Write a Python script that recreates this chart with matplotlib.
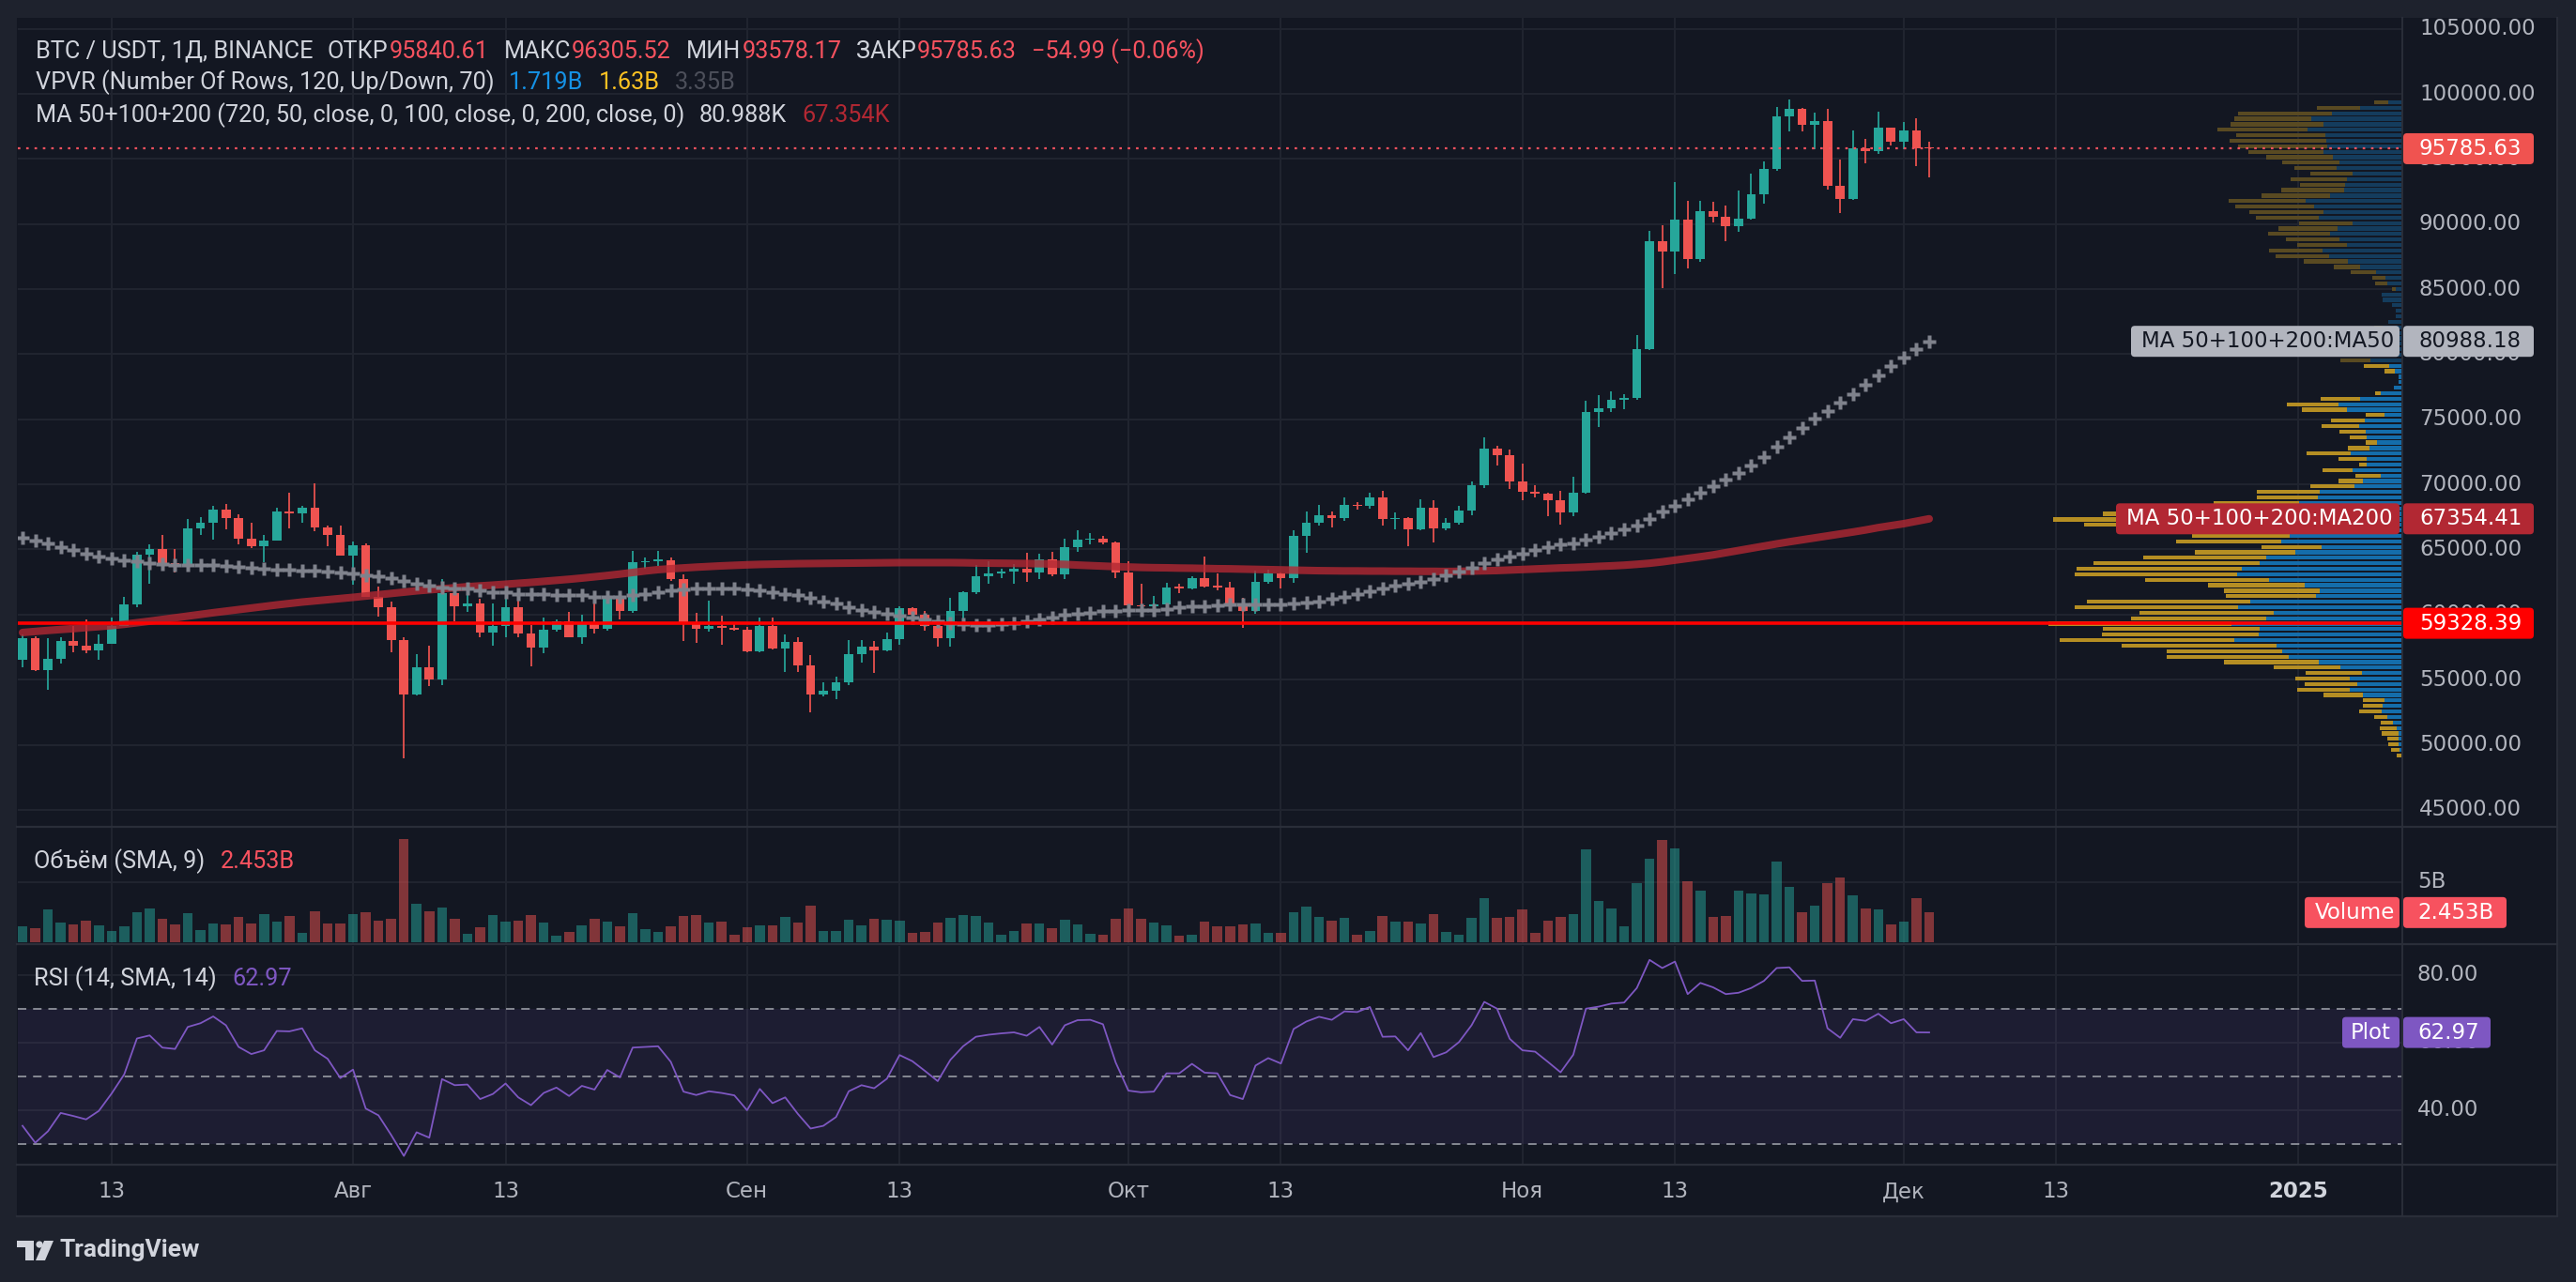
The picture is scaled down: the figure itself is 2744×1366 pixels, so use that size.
import numpy as np
import pandas as pd
import matplotlib
matplotlib.use('Agg')
import matplotlib.pyplot as plt
from matplotlib.patches import Rectangle, FancyBboxPatch, Circle, Polygon
from matplotlib.lines import Line2D
from matplotlib.transforms import IdentityTransform

# ------------------------------------ data ---------------------------------------
start_date = '2024-07-06'
first_open = 56540
last_open = 95840.61

closes = [58150, 55700, 56630, 57980, 57600, 57240, 57760, 59110, 60750, 64590,
          65000, 63940, 63870, 66590, 67070, 68080, 67400, 65820, 65240, 65700,
          67910, 67760, 68200, 66680, 66110, 64520, 65290, 61390, 60550, 58030,
          53890, 55940, 54980, 61630, 60670, 60870, 58610, 59110, 60550, 58530,
          57430, 58820, 59470, 58290, 59420, 58890, 61230, 60260, 63990, 64110,
          64160, 62720, 59420, 58890, 59110, 59010, 58820, 57140, 59110, 57380,
          57930, 56060, 53850, 54130, 54760, 56990, 57570, 57240, 58080, 60500,
          59960, 59110, 58150, 60290, 61730, 62950, 63140, 63310, 63530, 63260,
          64250, 63090, 65180, 65730, 65830, 65560, 63260, 60740, 60620, 60790,
          62090, 62020, 62830, 62180, 62110, 60670, 60240, 62520, 63170, 62830,
          66040, 67050, 67630, 67390, 68420, 68350, 68990, 67310, 67390, 66570,
          68200, 66640, 67030, 67990, 69940, 72740, 72230, 70250, 69450, 69300,
          68760, 67840, 69350, 75540, 75830, 76470, 76650, 80370, 88650, 87870,
          90370, 87280, 91010, 90520, 89800, 90440, 92290, 94250, 98280, 98840,
          97590, 97920, 92960, 91910, 95840, 95580, 97410, 96350, 97200, 95840.62,
          95785.63]

highs = [58460, 58300, 58150, 58220, 59110, 59590, 58460, 59780, 61350, 64830,
         65360, 66110, 65050, 67310, 67520, 68320, 68490, 67670, 67020, 66150,
         68200, 69330, 68320, 70050, 66850, 66830, 65580, 65480, 62120, 60990,
         58220, 56990, 57620, 62720, 62310, 61590, 61230, 60870, 61710, 61470,
         59180, 59740, 59660, 60220, 59980, 61350, 61710, 61350, 64900, 64400,
         64900, 64400, 63100, 60140, 61100, 59900, 59300, 59060, 59740, 59740,
         58460, 58270, 56920, 54760, 55260, 58030, 58030, 57980, 58630, 60600,
         60550, 60310, 59710, 61270, 61800, 63790, 64080, 63500, 63910, 64750,
         64680, 64800, 65800, 66480, 66260, 66040, 65600, 64080, 62350, 61440,
         62420, 62350, 62950, 64460, 63170, 62520, 61270, 63380, 63450, 63240,
         66480, 67910, 68420, 67910, 68990, 68660, 69380, 69500, 67820, 67500,
         68850, 68780, 67390, 68350, 70220, 73600, 72970, 72670, 71590, 69940,
         69350, 69510, 70610, 76390, 76830, 77160, 76910, 81480, 89490, 89930,
         93240, 91810, 91810, 91730, 91450, 92600, 93890, 94810, 99000, 99560,
         98920, 98560, 98840, 94970, 97200, 96560, 98640, 97410, 97840, 98130,
         96305.52]

lows = [55940, 55650, 54210, 56230, 57090, 57020, 56490, 57740, 59090, 60550,
        62360, 63390, 63220, 63320, 66150, 65750, 66540, 65380, 65070, 64040,
        65650, 66610, 67040, 66390, 65240, 64500, 62310, 61350, 59830, 57090,
        48970, 53800, 54490, 54610, 59470, 60190, 58270, 57620, 58290, 58290,
        56010, 57020, 58700, 58220, 57740, 58530, 58770, 59660, 60100, 63510,
        63750, 62600, 57980, 57810, 58700, 57690, 58750, 57100, 57090, 57300,
        55580, 55580, 52500, 53730, 53530, 54610, 56300, 55500, 57140, 57700,
        59470, 58750, 57510, 57560, 59470, 61600, 62350, 62780, 62350, 62540,
        62690, 62950, 62690, 64820, 65420, 65420, 62830, 60070, 60020, 59830,
        60500, 61680, 61920, 62110, 61870, 60310, 58950, 60070, 62350, 62040,
        62470, 64770, 66860, 66670, 67220, 68030, 68110, 66860, 66550, 65280,
        66480, 65560, 66480, 66910, 67630, 69710, 71460, 69640, 68810, 69020,
        67530, 66890, 67530, 69300, 74410, 75540, 75750, 76470, 80300, 85070,
        86130, 86620, 87080, 90110, 88700, 89390, 90370, 91550, 94070, 97150,
        97150, 95740, 92630, 90830, 91830, 94630, 95350, 96040, 95740, 94430,
        93578.17]

# volume, billions
volumes = [1.31, 1.16, 2.71, 1.62, 1.47, 1.78, 1.39, 0.93, 1.31, 2.47,
           2.78, 1.93, 1.47, 2.40, 1.01, 1.55, 1.47, 2.09, 1.55, 2.32,
           1.70, 2.16, 0.77, 2.55, 1.55, 1.55, 2.32, 2.47, 1.78, 1.93,
           8.50, 3.17, 2.55, 2.86, 1.93, 0.70, 1.24, 2.24, 1.70, 1.78,
           2.24, 1.62, 0.54, 0.85, 1.39, 1.93, 1.70, 1.31, 2.40, 1.08,
           0.85, 1.31, 2.16, 2.24, 1.62, 1.70, 0.62, 1.24, 1.39, 1.39,
           2.09, 1.62, 3.02, 0.93, 0.93, 1.86, 1.39, 1.93, 1.86, 1.78,
           0.77, 0.85, 1.62, 2.01, 2.24, 2.16, 1.62, 0.62, 0.93, 1.55,
           1.55, 1.16, 1.86, 1.47, 0.70, 0.62, 1.93, 2.78, 1.93, 1.62,
           1.39, 0.54, 0.62, 1.70, 1.31, 1.31, 1.47, 1.55, 0.77, 0.77,
           2.47, 2.94, 2.09, 1.78, 2.01, 0.62, 0.93, 2.16, 1.70, 1.70,
           1.55, 2.32, 0.85, 0.62, 2.01, 3.63, 2.01, 2.09, 2.71, 0.77,
           1.78, 2.09, 2.32, 7.65, 3.40, 2.78, 1.31, 4.87, 6.88, 8.43,
           7.73, 5.03, 4.25, 2.09, 2.16, 4.25, 4.02, 3.94, 6.65, 4.56,
           2.47, 3.02, 4.87, 5.34, 3.87, 2.78, 2.71, 1.47, 1.70, 3.63,
           2.453]

ma50 = [65910, 65670, 65480, 65190, 64950, 64640, 64470, 64280, 64180, 64060,
        63940, 63870, 63820, 63800, 63800, 63800, 63750, 63680, 63560, 63510,
        63440, 63440, 63390, 63390, 63320, 63250, 63130, 63030, 62910, 62790,
        62550, 62380, 62190, 62070, 61990, 61990, 61830, 61710, 61710, 61590,
        61590, 61540, 61510, 61510, 61470, 61390, 61350, 61350, 61470, 61590,
        61710, 61830, 61950, 62020, 62020, 62020, 62020, 61950, 61880, 61710,
        61590, 61470, 61300, 61030, 60820, 60550, 60380, 60190, 60070, 59900,
        59800, 59620, 59470, 59350, 59250, 59220, 59190, 59230, 59350, 59470,
        59640, 59760, 59950, 60070, 60150, 60260, 60310, 60320, 60360, 60380,
        60430, 60550, 60620, 60670, 60740, 60770, 60790, 60790, 60790, 60800,
        60820, 60910, 61030, 61200, 61390, 61580, 61800, 61990, 62230, 62350,
        62540, 62710, 63000, 63320, 63610, 63920, 64250, 64445, 64650, 64960,
        65210, 65420, 65500, 65730, 65990, 66290, 66580, 66860, 67350, 67890,
        68350, 68860, 69380, 69890, 70380, 70870, 71460, 72100, 72870, 73620,
        74340, 75060, 75620, 76260, 76900, 77620, 78370, 79090, 79730, 80370,
        80988.18]

ma200 = [58620, 58700, 58780, 58850, 58920, 59000, 59070, 59150, 59250, 59370,
         59490, 59620, 59750, 59880, 60010, 60140, 60260, 60380, 60500, 60620,
         60740, 60850, 60960, 61050, 61140, 61230, 61320, 61420, 61520, 61620,
         61720, 61820, 61900, 61980, 62060, 62140, 62200, 62260, 62330, 62400,
         62470, 62550, 62630, 62710, 62800, 62900, 63000, 63110, 63230, 63350,
         63450, 63520, 63580, 63640, 63690, 63740, 63780, 63820, 63850, 63870,
         63890, 63910, 63920, 63930, 63940, 63950, 63960, 63970, 63980, 63990,
         63990, 63990, 63990, 63990, 63980, 63960, 63950, 63940, 63930, 63920,
         63910, 63880, 63850, 63800, 63760, 63720, 63680, 63650, 63620, 63600,
         63590, 63570, 63560, 63540, 63520, 63510, 63490, 63470, 63450, 63430,
         63410, 63390, 63370, 63360, 63350, 63350, 63340, 63340, 63330, 63330,
         63320, 63320, 63310, 63320, 63340, 63360, 63380, 63420, 63460, 63500,
         63540, 63580, 63610, 63650, 63700, 63740, 63790, 63860, 63940, 64050,
         64180, 64310, 64440, 64580, 64750, 64920, 65090, 65260, 65430, 65590,
         65740, 65890, 66040, 66190, 66340, 66500, 66680, 66830, 66980, 67170,
         67354.41]

rsi = [35.4, 30.4, 33.8, 39.2, 38.3, 37.3, 39.8, 44.9, 50.6, 61.2,
       62.1, 58.5, 58.1, 64.6, 65.7, 67.7, 65.1, 58.7, 56.6, 57.7,
       63.4, 63.3, 64.2, 57.7, 55.2, 49.5, 52.0, 40.5, 38.5, 32.7,
       26.5, 33.5, 31.9, 49.2, 47.4, 47.6, 43.3, 44.8, 47.9, 43.8,
       41.5, 45.1, 46.7, 44.2, 47.2, 46.1, 51.9, 49.7, 58.5, 58.7,
       58.9, 54.3, 45.5, 44.5, 45.6, 45.1, 44.4, 40.0, 46.3, 42.1,
       43.8, 38.9, 34.6, 35.4, 38.0, 45.6, 47.4, 46.5, 49.3, 56.3,
       54.5, 51.6, 48.6, 54.9, 58.9, 61.7, 62.3, 62.7, 63.0, 62.0,
       64.6, 59.4, 65.1, 66.6, 66.7, 65.4, 54.1, 45.8, 45.3, 45.5,
       50.9, 50.9, 53.7, 51.1, 50.9, 44.5, 43.3, 53.2, 55.4, 53.8,
       64.0, 66.2, 67.6, 66.7, 69.2, 69.0, 70.5, 61.7, 61.8, 57.7,
       62.8, 55.7, 57.1, 60.1, 65.1, 72.0, 70.0, 61.1, 57.7, 57.3,
       54.3, 51.2, 56.4, 70.0, 70.6, 71.5, 71.8, 76.1, 84.4, 82.0,
       83.9, 74.3, 77.6, 76.3, 74.3, 74.7, 76.1, 78.2, 82.0, 82.2,
       78.2, 78.3, 64.2, 61.4, 66.9, 66.4, 68.5, 65.7, 66.9, 63.0,
       62.97]

# volume profile, 120 rows from lowest low to highest high (relative units)
vp_up = [0.5, 2, 3.3, 3.3, 3.3, 5.3, 9.3, 15.3, 21.3, 20.3,
         18.3, 41.3, 55.3, 47.3, 55.3, 42.3, 65.3, 88.3, 120.3, 127.3,
         133.3, 178.3, 152.3, 151.3, 181.3, 144.3, 136.3, 174.3, 161.3, 91.3,
         87.3, 103.3, 141.3, 175.3, 170.3, 151.3, 144.3, 113.3, 85.3, 128.3,
         119.3, 125, 130, 140, 125, 130, 109.3, 89.3, 87.3, 50.3,
         41.3, 22.3, 52.3, 37.3, 37.3, 54.3, 34.3, 26.3, 37.3, 38.3,
         45.3, 39.3, 18.3, 58.3, 67.3, 44.3, 22.3, 8.3, 3.3, 3.3,
         7.3, 13.3, 32.7, 25, 20, 15, 12, 12, 20, 14.3,
         6.3, 6.3, 10.3, 20.3, 21.3, 6.3, 15.3, 17.3, 27.3, 44.3,
         57.3, 77.3, 84.3, 58.3, 66.3, 76.3, 68.3, 52.3, 88.3, 83.3,
         93.3, 102.3, 76.3, 61.3, 60.3, 58.3, 52.3, 69.3, 66.3, 73.3,
         83.3, 79.3, 80.3, 81.3, 100, 83.3, 96, 74.3, 44.3, 14.3]
vp_down = [4.8, 9.3, 11, 12, 18, 18, 13, 14, 24, 21,
           23, 42, 56, 56, 58, 60, 71, 101, 130, 123,
           165, 186, 167, 167, 195, 144, 143, 174, 174, 96,
           102, 103, 132, 173, 176, 177, 131, 107, 64, 112,
           104, 155, 208, 232, 193, 160, 91, 65, 67, 47,
           26, 27, 32, 8, 30, 47, 23, 12, 18, 28,
           40, 36, 20, 48, 55, 42, 6, 0, 0, 0,
           11, 27, 32, 10, 8, 6, 4, 6, 9, 0,
           0, 0, 0, 0, 0, 4, 13, 14, 27, 28,
           47, 57, 57, 53, 57, 66, 63, 57, 67, 79,
           84, 82, 73, 67, 48, 60, 45, 45, 61, 71,
           80, 95, 103, 95, 96, 99, 82, 100, 46, 15]
value_area_high = 79400
poc_price = 59328.39

tick_dates = ['2024-07-13', '2024-08-01', '2024-08-13', '2024-09-01', '2024-09-13', '2024-10-01',
              '2024-10-13', '2024-11-01', '2024-11-13', '2024-12-01', '2024-12-13', '2025-01-01']
tick_labels = ['13', 'Авг', '13', 'Сен', '13', 'Окт', '13', 'Ноя', '13', 'Дек', '13', '2025']

# ------------------------------------ style ---------------------------------------
W, H = 2744, 1366
BG = '#131722'
FRAME = '#1e222d'
GRID = '#212530'
SEP = '#2a2e39'
AXTXT = '#b2b5be'
LEG = '#d1d4dc'
UP = '#26a69a'
DN = '#ef5350'
RED = '#f7525f'
MA200C = '#b22833'
PURPLE = '#7e57c2'
AXFONT = dict(family='DejaVu Sans', fontsize=16.5)
LEGSIZE = 18.2

plt.rcParams['font.family'] = ['Roboto', 'DejaVu Sans']
ID = IdentityTransform()

fig = plt.figure(figsize=(W / 100, H / 100), dpi=100, facecolor=FRAME)
renderer = fig.canvas.get_renderer()


def rect_px(x0, y0, x1, y1):
    return [x0 / W, 1 - y1 / H, (x1 - x0) / W, (y1 - y0) / H]


def hline(x0, x1, y, lw=1.5):
    fig.add_artist(Line2D([x0, x1], [H - y, H - y], transform=ID, color=SEP, lw=lw, zorder=2))


def vline(x, y0, y1, lw=1.5):
    fig.add_artist(Line2D([x, x], [H - y0, H - y1], transform=ID, color=SEP, lw=lw, zorder=2))


def ydisp(axis, v):
    return axis.transData.transform((0, v))[1]


def legend_line(x, y, groups, gap=15):
    # groups: list of [(text, colour), ...]; pieces inside a group touch, groups are spaced
    for grp in groups:
        for s, col in grp:
            t = fig.text(x, H - y, s, transform=ID, color=col, va='center', ha='left', fontsize=LEGSIZE)
            x = t.get_window_extent(renderer).x1 + 1
        x += gap


def axis_box(x0, x1, yc, fc, label, tc, tx, h=33):
    fig.add_artist(FancyBboxPatch((x0, yc - h / 2), x1 - x0, h,
                                  boxstyle='round,pad=0,rounding_size=4',
                                  transform=ID, fc=fc, ec='none', zorder=20))
    fig.text(tx, yc, label, transform=ID, color=tc, va='center', ha='left', zorder=21, **AXFONT)


fig.add_artist(Rectangle((18, H - 1296), 2724 - 18, 1296 - 19, transform=ID,
                         fc=BG, ec='none', zorder=-10))

c = np.array(closes, dtype=float)
o = np.array([first_open] + closes[:-2] + [last_open], dtype=float)
h = np.array(highs, dtype=float)
l = np.array(lows, dtype=float)
x = np.arange(len(c))
dates = pd.date_range(start_date, periods=len(c), freq='D')
tick_pos = np.array((pd.to_datetime(tick_dates) - dates[0]).days)
colors = np.where(c >= o, UP, DN)

ax = fig.add_axes(rect_px(19, 19, 2558, 880))
ax_v = fig.add_axes(rect_px(19, 882, 2558, 1005), sharex=ax)
ax_r = fig.add_axes(rect_px(19, 1008, 2558, 1240), sharex=ax)

for a in (ax, ax_v, ax_r):
    a.set_facecolor(BG)
    for s in a.spines.values():
        s.set_visible(False)
    a.tick_params(length=0, labelleft=False, labelbottom=False)
    a.set_axisbelow(True)
    a.grid(True, color=GRID, lw=1.4)
    a.set_xticks(tick_pos)

ax.set_xlim(-0.37, 187.15)

# ---------------- price pane
ax.set_ylim(43764, 105840)
price_ticks = np.arange(45000, 105001, 5000)
ax.set_yticks(price_ticks)

ax.vlines(x, l, h, colors=colors, lw=1.25, zorder=3)
ax.bar(x, np.maximum(np.abs(c - o), 100), bottom=np.minimum(o, c), width=0.72,
       color=colors, lw=0, zorder=3)
ax.plot(x, ma200, color=MA200C, alpha=0.8, lw=5.8, solid_capstyle='round', zorder=4)
ax.plot(x, ma50, ls='none', marker='P', ms=9.5, color='#7f828c', mec='none', zorder=5)

# volume profile
ax_p = ax.twiny()
ax_p.patch.set_visible(False)
for s in ax_p.spines.values():
    s.set_visible(False)
ax_p.set_xticks([])
ax_p.tick_params(length=0, labeltop=False)
vp_up_a = np.array(vp_up, dtype=float)
vp_dn_a = np.array(vp_down, dtype=float)
step = (h.max() - l.min()) / len(vp_up_a)
centers = l.min() + (np.arange(len(vp_up_a)) + 0.5) * step
in_va = centers <= value_area_high
ax_p.barh(centers, vp_up_a, height=step * 0.72, left=0,
          color=np.where(in_va, '#146dab', '#143c5d'), lw=0, zorder=2)
ax_p.barh(centers, vp_dn_a, height=step * 0.72, left=vp_up_a,
          color=np.where(in_va, '#b58e23', '#594a22'), lw=0, zorder=2)
ax_p.set_xlim((vp_up_a + vp_dn_a).max() / 0.148, 0)
ax_p.axhline(poc_price, color='#ff0000', lw=2.6, zorder=5)
ax_p.axhline(c[-1], color=RED, lw=1.6, ls=(0, (1.2, 2.8)), zorder=5)

# ---------------- volume pane
ax_v.set_ylim(-0.08, 9.46)
ax_v.set_yticks([5])
ax_v.bar(x, volumes, width=0.78, color=colors, alpha=0.5, lw=0, zorder=3)

# ---------------- RSI pane
ax_r.set_ylim(24.2, 88.5)
ax_r.set_yticks([40, 60, 80])
ax_r.axhspan(30, 70, color=PURPLE, alpha=0.1, lw=0, zorder=1)
for lev in (70, 50, 30):
    ax_r.axhline(lev, color='#8f929b', lw=1.3, ls=(0, (5, 4)), zorder=2)
ax_r.plot(x, rsi, color=PURPLE, lw=1.3, zorder=4)

# ---------------- separators
for yy in (881, 1006, 1241, 1296):
    hline(18, 2724, yy, lw=1.6)
vline(2558.5, 19, 1296, lw=1.4)
vline(2724, 19, 1296, lw=1.4)

# ---------------- axis labels
for v in price_ticks:
    fig.text(2577, ydisp(ax, v), f'{v:.2f}', transform=ID, color=AXTXT,
             va='center', ha='left', zorder=5, **AXFONT)
fig.text(2575, ydisp(ax_v, 5), '5B', transform=ID, color=AXTXT, va='center', ha='left', zorder=5, **AXFONT)
for v in (80, 60, 40):
    fig.text(2575, ydisp(ax_r, v), f'{v:.2f}', transform=ID, color=AXTXT,
             va='center', ha='left', zorder=5, **AXFONT)
for p, s in zip(tick_pos, tick_labels):
    xd = ax.transData.transform((p, 0))[0]
    bold = s == '2025'
    fig.text(xd, H - 1270, s, transform=ID, color=LEG if bold else AXTXT, va='center', ha='center',
             fontweight='bold' if bold else 'normal', **AXFONT)

axis_box(2560, 2699, ydisp(ax, c[-1]), '#f05350', f'{c[-1]:.2f}', 'white', 2577)
axis_box(2270, 2556, ydisp(ax, ma50[-1]), '#b2b5be', 'MA 50+100+200:MA50', BG, 2281)
axis_box(2560, 2699, ydisp(ax, ma50[-1]), '#b2b5be', f'{ma50[-1]:.2f}', BG, 2577)
axis_box(2254, 2556, ydisp(ax, ma200[-1]), MA200C, 'MA 50+100+200:MA200', 'white', 2265)
axis_box(2560, 2699, ydisp(ax, ma200[-1]), MA200C, f'{ma200[-1]:.2f}', 'white', 2577)
axis_box(2560, 2699, ydisp(ax, poc_price), '#ff0000', f'{poc_price:.2f}', 'white', 2577)
axis_box(2455, 2556, ydisp(ax_v, volumes[-1]), RED, 'Volume', 'white', 2466)
axis_box(2560, 2670, ydisp(ax_v, volumes[-1]), RED, f'{volumes[-1]:.3f}B', 'white', 2575)
axis_box(2495, 2556, ydisp(ax_r, rsi[-1]), PURPLE, 'Plot', 'white', 2504)
axis_box(2560, 2653, ydisp(ax_r, rsi[-1]), PURPLE, f'{rsi[-1]:.2f}', 'white', 2575)

# ---------------- legends
chg = c[-1] - c[-2]
legend_line(37.5, 55, [[('BTC / USDT, 1Д, BINANCE', LEG)],
                       [('ОТКР', LEG), (f'{o[-1]:.2f}', RED)],
                       [('МАКС', LEG), (f'{h[-1]:.2f}', RED)],
                       [('МИН', LEG), (f'{l[-1]:.2f}', RED)],
                       [('ЗАКР', LEG), (f'{c[-1]:.2f}', RED)],
                       [(f'\u2212{abs(chg):.2f} (\u2212{abs(chg) / c[-2] * 100:.2f}%)', RED)]])
legend_line(37.5, 88, [[('VPVR (Number Of Rows, 120, Up/Down, 70)', LEG)], [('1.719B', '#1592e6')],
                       [('1.63B', '#fbc123')], [('3.35B', '#4c4f5a')]])
legend_line(37.5, 123, [[('MA 50+100+200 (720, 50, close, 0, 100, close, 0, 200, close, 0)', LEG)],
                        [(f'{ma50[-1] / 1000:.3f}K', LEG)], [(f'{ma200[-1] / 1000:.3f}K', MA200C)]])
legend_line(36.5, 918, [[('Объём (SMA, 9)', LEG)], [(f'{volumes[-1]:.3f}B', RED)]])
legend_line(36.5, 1043, [[('RSI (14, SMA, 14)', LEG)], [(f'{rsi[-1]:.2f}', PURPLE)]])

# ---------------- TradingView logo
logo = '#d1d4dc'
fig.add_artist(Rectangle((18, H - 1329), 18, 7, transform=ID, fc=logo, ec='none'))
fig.add_artist(Rectangle((27, H - 1343), 9, 21, transform=ID, fc=logo, ec='none'))
fig.add_artist(Circle((42, H - 1326), 3.6, transform=ID, fc=logo, ec='none'))
fig.add_artist(Polygon([(47, H - 1322), (57, H - 1322), (48, H - 1343), (38, H - 1343)],
                       closed=True, transform=ID, fc=logo, ec='none'))
fig.text(64, H - 1332, 'TradingView', transform=ID, color=logo, va='center', ha='left',
         fontsize=19, fontweight='bold')

fig.savefig('out.png', dpi=100, facecolor=FRAME)
